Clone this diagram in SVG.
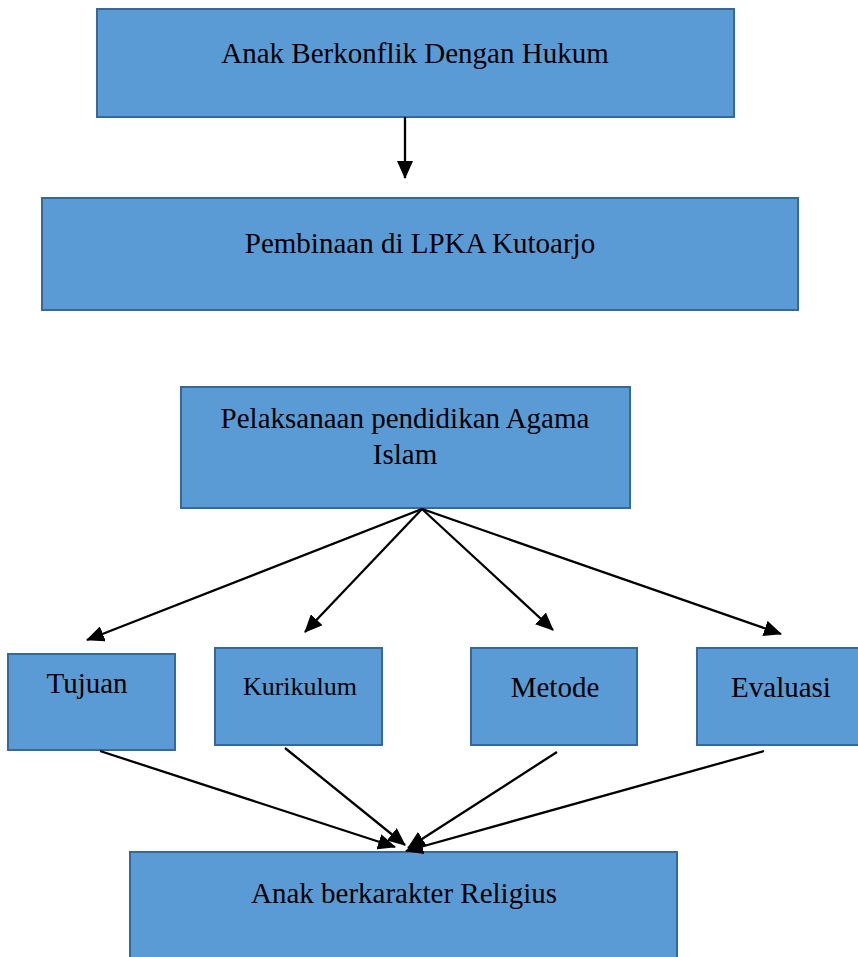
<svg xmlns="http://www.w3.org/2000/svg" width="858" height="957" viewBox="0 0 858 957">
<style>
.box{fill:#5B9BD5;stroke:#35699B;stroke-width:2}
.t{font-family:"Liberation Serif","Times New Roman",serif;font-size:29px;fill:#000;text-anchor:middle}
.c{stroke:#000;stroke-width:2.3;fill:none;marker-end:url(#ah)}
</style>
<defs>
<marker id="ah" markerUnits="userSpaceOnUse" markerWidth="18" markerHeight="16" refX="17" refY="8" orient="auto">
<path d="M0,0 L18,8 L0,16 Z" fill="#000"/>
</marker>
</defs>
<rect width="858" height="957" fill="#fff"/>
<g id="n1"><rect class="box" x="97" y="9" width="637" height="108"/><text class="t" x="415" y="63">Anak Berkonflik Dengan Hukum</text></g>
<g id="n2"><rect class="box" x="42" y="198" width="756" height="112"/><text class="t" x="420" y="253">Pembinaan di LPKA Kutoarjo</text></g>
<g id="n3"><rect class="box" x="181" y="387" width="449" height="121"/><text class="t" x="405" y="428">Pelaksanaan pendidikan Agama</text><text class="t" x="405" y="464">Islam</text></g>
<g id="n4"><rect class="box" x="8" y="654" width="167" height="96"/><text class="t" x="87" y="693">Tujuan</text></g>
<g id="n5"><rect class="box" x="215" y="648" width="167" height="97"/><text class="t" x="300" y="695" style="font-size:26px">Kurikulum</text></g>
<g id="n6"><rect class="box" x="471" y="648" width="166" height="97"/><text class="t" x="555" y="697">Metode</text></g>
<g id="n7"><rect class="box" x="697" y="648" width="170" height="97"/><text class="t" x="781" y="697">Evaluasi</text></g>
<g id="n8"><rect class="box" x="130" y="852" width="547" height="115"/><text class="t" x="404" y="903">Anak berkarakter Religius</text></g>
<g id="connectors">
<line class="c" x1="405" y1="117" x2="405" y2="178"/>
<line class="c" x1="422" y1="509" x2="87" y2="640"/>
<line class="c" x1="422" y1="509" x2="305" y2="632"/>
<line class="c" x1="422" y1="509" x2="553" y2="630"/>
<line class="c" x1="422" y1="509" x2="781" y2="634"/>
<line class="c" x1="100" y1="751" x2="395" y2="847"/>
<line class="c" x1="285" y1="748" x2="405" y2="845"/>
<line class="c" x1="557" y1="752" x2="408" y2="848"/>
<line class="c" x1="764" y1="751" x2="406" y2="851"/>
</g>
</svg>
